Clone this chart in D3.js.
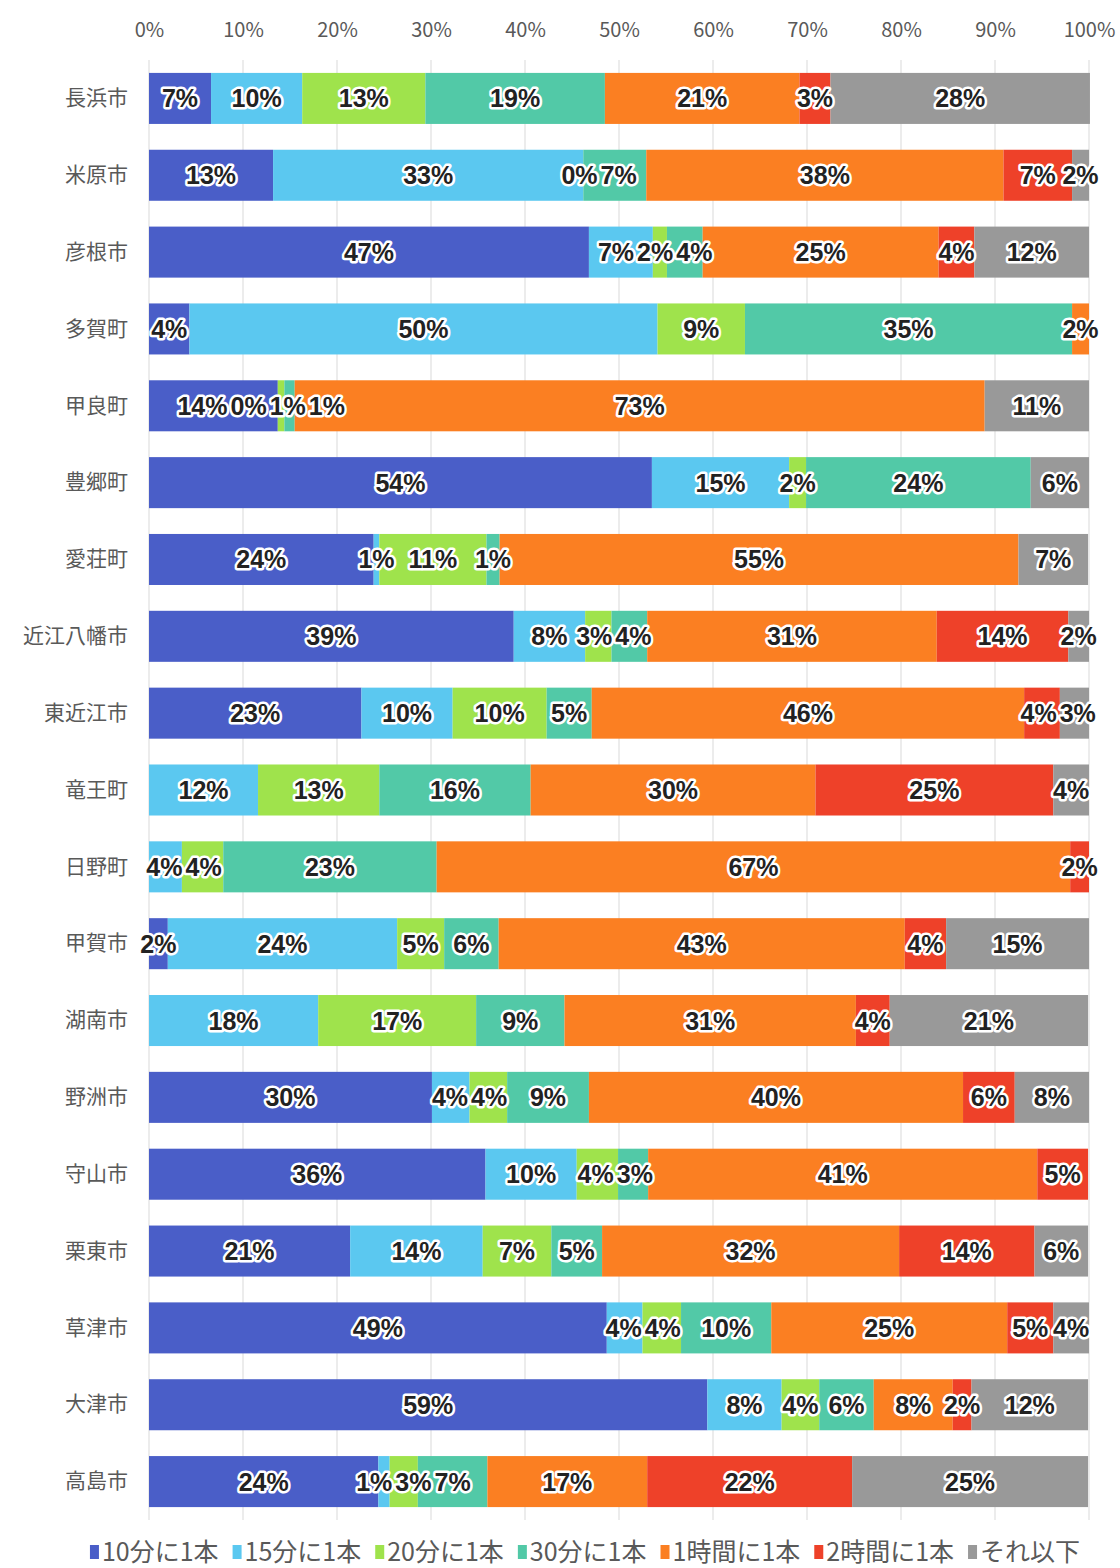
<!DOCTYPE html>
<html><head><meta charset="utf-8">
<script src="https://cdn.jsdelivr.net/npm/d3@7"></script>
<style>
html,body{margin:0;padding:0;background:#fff;}
svg{display:block;font-family:"Noto Sans CJK JP","Noto Sans",sans-serif;}
</style></head>
<body><svg id="chart" width="1120" height="1568"></svg>
<script>
const categories = ["長浜市","米原市","彦根市","多賀町","甲良町","豊郷町","愛荘町","近江八幡市","東近江市","竜王町","日野町","甲賀市","湖南市","野洲市","守山市","栗東市","草津市","大津市","高島市"];
const seriesNames = ["10分に1本","15分に1本","20分に1本","30分に1本","1時間に1本","2時間に1本","それ以下"];
const every10min = [6.6,13.2,46.8,4.3,13.7,53.5,23.9,38.8,22.6,null,null,2.0,null,30.1,35.8,21.4,48.7,59.4,24.4];
const every15min = [9.7,33.0,6.8,49.8,0,14.6,0.6,7.6,9.7,11.6,3.5,24.4,18.0,4.0,9.7,14.1,3.8,7.9,1.2];
const every20min = [13.1,0,1.5,9.3,0.7,1.8,11.4,2.8,10.0,12.9,4.4,5.0,16.8,4.0,4.4,7.3,4.1,4.0,3.0];
const every30min = [19.1,6.7,3.8,34.8,1.1,23.9,1.4,3.8,4.8,16.1,22.7,5.8,9.4,8.7,3.2,5.4,9.6,5.8,7.4];
const everyHour = [20.7,38.0,25.1,1.8,73.4,null,55.2,30.8,46.0,30.3,67.4,43.2,31.0,39.8,41.4,31.6,25.1,8.4,17.0];
const every2hours = [3.3,7.3,3.8,null,null,null,null,14.0,3.8,25.3,2.0,4.4,3.6,5.5,5.4,14.4,4.9,2.0,21.8];
const lessOften = [27.6,1.8,12.2,null,11.1,6.2,7.4,2.2,3.1,3.8,null,15.2,21.1,7.9,null,5.7,3.8,12.4,25.1];
const tickValues = [0,10,20,30,40,50,60,70,80,90,100];
const colors = ["#4a5ec8","#5bc8f0","#9fe34c","#52c9a7","#fb7f22","#ee4129","#999999"];

const seriesValues = [every10min,every15min,every20min,every30min,everyHour,every2hours,lessOften];
const keys = seriesNames;
const rows = categories.map((c,i)=>{const o={cat:c}; keys.forEach((k,j)=>o[k]=seriesValues[j][i]); return o;});

const svg = d3.select("#chart");
const x = d3.scaleLinear().domain([0,100]).range([149,1089]);
const y = d3.scaleBand().domain(categories).range([60,1520]).paddingInner(0.336).paddingOuter(0.168);

// gridlines
svg.append("g").selectAll("line").data(tickValues).join("line")
  .attr("x1",d=>x(d)).attr("x2",d=>x(d)).attr("y1",60).attr("y2",1520)
  .attr("stroke","#d9d9d9").attr("stroke-width",1);

// top axis
const ax = svg.append("g").attr("transform","translate(0,37)")
  .call(d3.axisTop(x).tickValues(tickValues).tickFormat(d=>d+"%").tickSize(0).tickPadding(0));
ax.select(".domain").remove();
ax.selectAll("text").attr("font-size",20).attr("fill","#595959").attr("font-family","\"Noto Sans CJK JP\",sans-serif");

// left axis
const ay = svg.append("g").attr("transform","translate(128,0)")
  .call(d3.axisLeft(y).tickSize(0).tickPadding(0));
ay.select(".domain").remove();
ay.selectAll("text").attr("font-size",21).attr("fill","#595959").attr("font-family","\"Noto Sans CJK JP\",sans-serif");

const stack = d3.stack().keys(keys).value((d,k)=>d[k]==null?0:d[k]);
const stacked = stack(rows);

const gSeries = svg.append("g").selectAll("g").data(stacked).join("g").attr("fill",(d,i)=>colors[i]);
gSeries.selectAll("rect").data(d=>d).join("rect")
  .attr("x",d=>x(d[0])).attr("width",d=>Math.max(0,x(d[1])-x(d[0])))
  .attr("y",d=>y(d.data.cat)).attr("height",y.bandwidth());

// labels
const labelLayer = svg.append("g");
categories.forEach((cat,ri)=>{
  const items=[];
  stacked.forEach((s,si)=>{
    const v = seriesValues[si][ri];
    if(v==null) return;
    const seg = s[ri];
    items.push({text:Math.round(v)+"%", cx:(x(seg[0])+x(seg[1]))/2});
  });
  const cy = y(cat)+y.bandwidth()/2;
  items.forEach(it=>{
    const t = labelLayer.append("text").attr("y",cy).attr("dy","0.36em")
      .attr("text-anchor","middle").attr("font-size",25).attr("font-weight",700)
      .attr("font-family","\"Liberation Sans\",sans-serif")
      .attr("fill","#222").attr("stroke","#fff").attr("stroke-width",5)
      .attr("stroke-linejoin","round").attr("paint-order","stroke").text(it.text);
    it.w = t.node().getComputedTextLength(); it.node=t;
  });
  // resolve overlaps between neighbouring labels
  const pad = 3;
  let clusters = items.map(it=>({items:[it], w:it.w+pad, c:it.cx}));
  let changed=true;
  while(changed){
    changed=false;
    for(let i=0;i<clusters.length-1;i++){
      const a=clusters[i], b=clusters[i+1];
      if(a.c + a.w/2 > b.c - b.w/2){
        const w=a.w+b.w;
        const c=(a.c*a.w + b.c*b.w)/w;
        clusters.splice(i,2,{items:a.items.concat(b.items), w, c});
        changed=true; break;
      }
    }
  }
  clusters.forEach(cl=>{
    if(cl.items.length===1){cl.items[0].x=cl.items[0].cx;}
    else { let left = cl.c - cl.w/2; cl.items.forEach(it=>{const w=it.w+pad; it.x=left+w/2; left+=w;}); }
  });
  items.forEach(it=>it.node.attr("x",Math.min(it.x, 1120 - it.w/2 - 3)));
});

// legend
const legend = svg.append("g");
let lx = 0; const ly = 1552; const gap = 14;
seriesNames.forEach((n,i)=>{
  const g = legend.append("g");
  g.append("rect").attr("x",0).attr("y",ly-7).attr("width",9).attr("height",14).attr("fill",colors[i]);
  const t = g.append("text").attr("x",12).attr("y",ly).attr("dy","0.36em").attr("font-size",25)
    .attr("fill","#595959").text(n);
  const w = 12 + t.node().getComputedTextLength();
  g.attr("transform",`translate(${lx},0)`);
  lx += w + gap;
});
const total = lx - gap;
legend.attr("transform",`translate(${585 - total/2},0)`);
</script></body></html>
